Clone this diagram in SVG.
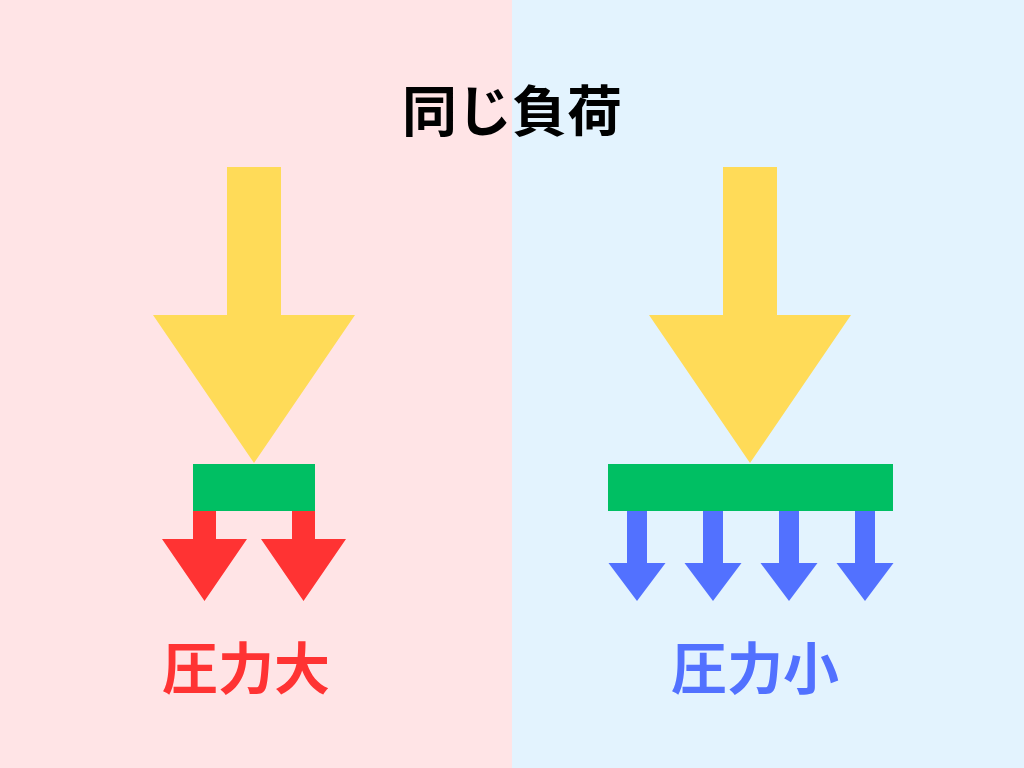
<svg xmlns="http://www.w3.org/2000/svg" width="1024" height="768" viewBox="0 0 1024 768">
<style>
.load{fill:#FFDB58}
.plate{fill:#00BF63}
.red{fill:#FF3333}
.blue{fill:#5271FF}
.t{font-family:"Noto Sans CJK JP","Noto Sans CJK SC",sans-serif;font-weight:bold}
</style>
<defs>
<path id="bigArrow" d="M-27,0 H27 V148 H101 L0,296 L-101,148 H-27 Z"/>
<path id="redArrow" d="M-11.5,0 H11.5 V28 H42.5 L0,90 L-42.5,28 H-11.5 Z"/>
<path id="blueArrow" d="M-10,0 H10 V52 H28.5 L0,90 L-28.5,52 H-10 Z"/>
</defs>
<rect x="0" y="0" width="512" height="768" fill="#FFE4E6"/>
<rect x="512" y="0" width="512" height="768" fill="#E3F3FE"/>
<g id="title"><text class="t" x="512" y="131" font-size="55" text-anchor="middle" fill="#000">同じ負荷</text></g>
<g id="left">
<use href="#bigArrow" class="load" x="254" y="167"/>
<rect class="plate" x="193" y="464" width="122" height="47"/>
<use href="#redArrow" class="red" x="204.5" y="511"/>
<use href="#redArrow" class="red" x="303.5" y="511"/>
<text class="t" x="162" y="689" font-size="56" fill="#FF3333">圧力大</text>
</g>
<g id="right">
<use href="#bigArrow" class="load" x="750" y="167"/>
<rect class="plate" x="608" y="464" width="285" height="47"/>
<use href="#blueArrow" class="blue" x="637" y="511"/>
<use href="#blueArrow" class="blue" x="713" y="511"/>
<use href="#blueArrow" class="blue" x="789" y="511"/>
<use href="#blueArrow" class="blue" x="865" y="511"/>
<text class="t" x="671" y="689" font-size="56" fill="#5271FF">圧力小</text>
</g>
<g id="connectors"></g>
</svg>
